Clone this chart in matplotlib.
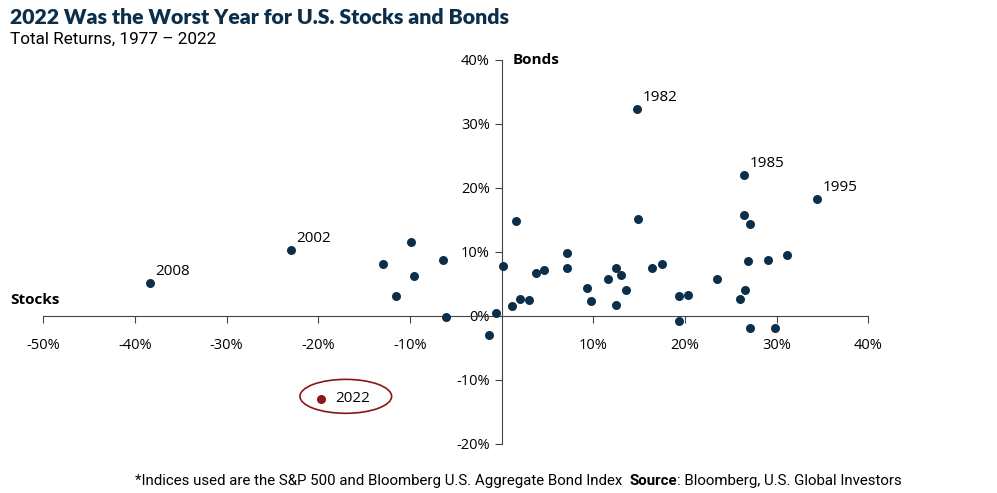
import numpy as np
import matplotlib.pyplot as plt
from matplotlib.patches import Ellipse

# stock and bond total returns (%)
stocks = [-38.4, -23.0, -9.9, -12.9, -9.6, -11.5, -6.4, -6.1, -1.4, -0.6,
          0.1, 1.6, 1.1, 2.0, 3.0, 3.7, 4.6, 7.1, 7.1, 9.3,
          9.7, 11.6, 12.5, 13.0, 12.5, 13.6, 14.9, 16.4, 17.5, 19.4,
          20.3, 19.4, 23.5, 26.0, 26.4, 34.4, 26.4, 27.1, 26.9, 29.1,
          31.1, 26.6, 27.1, 29.8, 14.8]
bonds = [5.1, 10.2, 11.5, 8.1, 6.2, 3.0, 8.7, -0.25, -3.0, 0.35,
         7.7, 14.8, 1.5, 2.6, 2.4, 6.7, 7.1, 9.75, 7.4, 4.4,
         2.35, 5.7, 7.5, 6.3, 1.6, 4.0, 15.1, 7.5, 8.1, 3.1,
         3.3, -0.9, 5.7, 2.6, 22.0, 18.2, 15.7, 14.4, 8.5, 8.7,
         9.5, 4.0, -2.0, -2.0, 32.3]
labeled = {"2008": (-38.4, 5.1), "2002": (-23.0, 10.2), "1982": (14.8, 32.3),
           "1985": (26.4, 22.0), "1995": (34.4, 18.2)}
y2022 = (-19.7, -13.0)

xticks = [-50, -40, -30, -20, -10, 10, 20, 30, 40]
yticks = [-20, -10, 0, 10, 20, 30, 40]

navy = '#0b2f4a'
red = '#8c1515'
plt.rcParams['font.family'] = ['Open Sans', 'DejaVu Sans']

fig = plt.figure(figsize=(9.97, 4.93), dpi=100)
ax = fig.add_axes([0.0434, 0.100, 0.8275, 0.779])
ax.set_xlim(-50, 40)
ax.set_ylim(-20, 40)

ax.scatter(stocks, bonds, s=42, color=navy, zorder=3, linewidths=0)
ax.scatter([y2022[0]], [y2022[1]], s=42, color=red, zorder=3, linewidths=0)

for lab, (x, y) in labeled.items():
    ax.annotate(lab, (x, y), xytext=(4, 3), textcoords='offset points',
                ha='left', va='bottom', fontsize=11)

ax.annotate("2022", y2022, xytext=(10, 0), textcoords='offset points',
            ha='left', va='center', fontsize=11)
ax.add_patch(Ellipse((-17.0, -12.6), 10.0, 5.3, fill=False,
                     edgecolor=red, linewidth=1.2))

for s in ['top', 'right']:
    ax.spines[s].set_visible(False)
ax.spines['left'].set_position(('data', 0))
ax.spines['bottom'].set_position(('data', 0))
ax.spines['left'].set_color('#444444')
ax.spines['bottom'].set_color('#444444')

ax.set_xticks(xticks)
ax.set_xticklabels([f"{v}%" for v in xticks])
ax.set_yticks(yticks)
ax.set_yticklabels([f"{v}%" for v in yticks])
ax.tick_params(axis='both', colors='#444444', labelcolor='black',
               labelsize=10.5, length=5, width=0.8)
ax.tick_params(axis='x', pad=11)

ax.text(-53.6, 1.3, "Stocks", fontsize=11, fontweight='bold', ha='left', va='bottom')
ax.text(1.2, 40, "Bonds", fontsize=11, fontweight='bold', ha='left', va='center')

fig.text(0.010, 0.965, "2022 Was the Worst Year for U.S. Stocks and Bonds",
         fontsize=15.3, fontweight='heavy', color=navy, family='Lato', va='center')
fig.text(0.010, 0.920, "Total Returns, 1977 \u2013 2022", fontsize=12.3,
         family='Roboto', va='center')

t1 = fig.text(0.135, 0.024, "*Indices used are the S&P 500 and Bloomberg U.S. Aggregate Bond Index  ",
              fontsize=10.8, family='Roboto', va='center')
t2 = ax.annotate("Source", xy=(1, 0.5), xycoords=t1, va='center', ha='left',
                 fontsize=10.8, family='Roboto', fontweight='bold')
ax.annotate(": Bloomberg, U.S. Global Investors", xy=(1, 0.5), xycoords=t2,
            va='center', ha='left', fontsize=10.8, family='Roboto')

fig.savefig('out.png', dpi=100)
